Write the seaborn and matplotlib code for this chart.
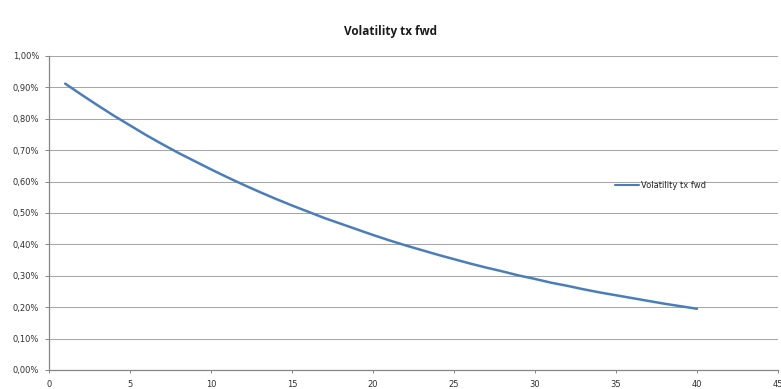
import matplotlib
matplotlib.use("Agg")
import matplotlib.pyplot as plt
from matplotlib.ticker import FuncFormatter, MultipleLocator
import seaborn as sns
import pandas as pd

# Maturity (years) and forward-rate volatility (%)
maturity = list(range(1, 41))
volatility = [
    0.912, 0.877, 0.843, 0.810, 0.779, 0.748, 0.719, 0.691, 0.665, 0.639,
    0.614, 0.590, 0.567, 0.545, 0.524, 0.504, 0.484, 0.466, 0.448, 0.430,
    0.413, 0.397, 0.382, 0.367, 0.353, 0.339, 0.326, 0.314, 0.301, 0.290,
    0.278, 0.268, 0.257, 0.247, 0.238, 0.229, 0.220, 0.211, 0.203, 0.195,
]
series_name = "Volatility tx fwd"
title = "Volatility tx fwd"

df = pd.DataFrame({"maturity": maturity, "vol": volatility, "serie": series_name})

sns.set_theme(style="white")
plt.rcParams["font.family"] = ["DejaVu Sans"]

fig = plt.figure(figsize=(7.81, 3.89), dpi=100)
ax = fig.add_axes([49 / 781, 19 / 389, 729 / 781, 314 / 389])

sns.lineplot(data=df, x="maturity", y="vol", hue="serie", palette=["#4a7ebb"],
             linewidth=1.8, ax=ax)

ax.set_xlim(0, 45)
ax.set_ylim(0, 1.0)
ax.xaxis.set_major_locator(MultipleLocator(5))
ax.yaxis.set_major_locator(MultipleLocator(0.1))
ax.yaxis.set_major_formatter(FuncFormatter(lambda v, _: f"{v:.2f}%".replace(".", ",")))
ax.set_xlabel("")
ax.set_ylabel("")

ax.grid(axis="y", color="#a6a6a6", linewidth=0.75)
ax.grid(axis="x", visible=False)
ax.set_axisbelow(True)
for side in ("top", "right"):
    ax.spines[side].set_visible(False)
for side in ("left", "bottom"):
    ax.spines[side].set_color("#868686")
    ax.spines[side].set_linewidth(0.9)

ax.tick_params(axis="both", which="major", width=0.7, color="#868686",
               labelsize=6, labelcolor="#303030", direction="out",
               bottom=True, left=True)
ax.tick_params(axis="x", length=2, pad=5)
ax.tick_params(axis="y", length=3, pad=4)

leg = ax.legend(loc="center left", bbox_to_anchor=(0.772, 0.587), frameon=False,
                fontsize=6, handlelength=2.9, handletextpad=0.2, borderaxespad=0)
for h in leg.get_lines():
    h.set_linewidth(1.5)

fig.text(0.5, 0.918, title, ha="center", va="center", fontsize=8.5,
         fontweight="bold", color="#1a1a1a", family=["Open Sans", "DejaVu Sans"])

fig.savefig("out.png", dpi=100)
